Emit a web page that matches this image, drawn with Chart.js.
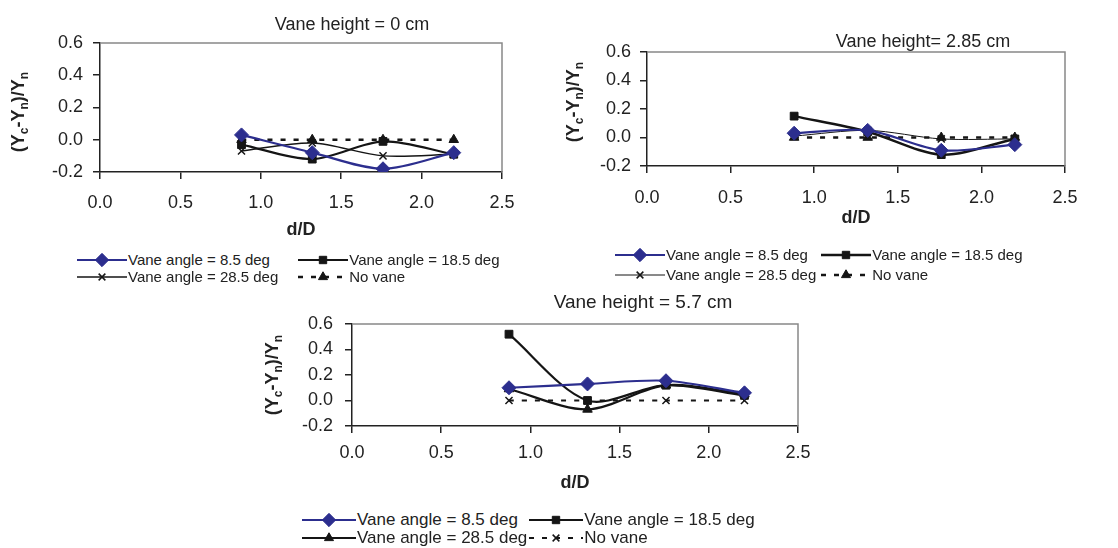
<!DOCTYPE html>
<html>
<head>
<meta charset="utf-8">
<script src="https://cdn.jsdelivr.net/npm/chart.js@4.4.1/dist/chart.umd.min.js"></script>
<style>
body { margin: 0; background: #fff; }
#tudo { position: relative; width: 1118px; height: 548px; overflow: hidden; font-family: "Liberation Sans", Arial, sans-serif; color: #222; }
#tudo > canvas { position: absolute; }
.legenda { position: absolute; display: grid; grid-template-columns: auto auto; align-items: center; }
.item { display: flex; align-items: center; white-space: nowrap; }
.item canvas { margin-right: 1px; }
</style>
</head>
<body>
<div id="tudo">
  <canvas id="g1" width="560" height="250" style="left:0px;top:0px"></canvas>
  <canvas id="g2" width="558" height="240" style="left:560px;top:0px"></canvas>
  <canvas id="g3" width="580" height="210" style="left:250px;top:290px"></canvas>
  <div class="legenda" id="leg1" style="left:77px;top:251px;font-size:15px;line-height:17px;column-gap:20px"></div>
  <div class="legenda" id="leg2" style="left:615px;top:245px;font-size:15px;line-height:20px;column-gap:5px"></div>
  <div class="legenda" id="leg3" style="left:302px;top:511px;font-size:17px;line-height:18px;column-gap:2px"></div>
</div>
<script>
// d/D positions of the measurements
var dD = [0.88, 1.32, 1.76, 2.2];
var rotulos = ['Vane angle = 8.5 deg', 'Vane angle = 18.5 deg', 'Vane angle = 28.5 deg', 'No vane'];
var xTicks = [0, 0.5, 1, 1.5, 2, 2.5];
var yTicks = [-0.2, 0, 0.2, 0.4, 0.6];

// Vane height = 0 cm
var h0_85 = [0.03, -0.08, -0.18, -0.08];
var h0_185 = [-0.03, -0.12, -0.01, -0.09];
var h0_285 = [-0.07, -0.02, -0.1, -0.09];
var h0_sem = [0, 0, 0, 0];

// Vane height = 2.85 cm
var h285_85 = [0.03, 0.05, -0.09, -0.05];
var h285_185 = [0.15, 0.04, -0.12, -0.01];
var h285_285 = [0.01, 0.05, -0.01, -0.01];
var h285_sem = [0, 0, 0, 0];

// Vane height = 5.7 cm
var h57_85 = [0.1, 0.13, 0.155, 0.06];
var h57_185 = [0.52, 0.0, 0.12, 0.04];
var h57_285 = [0.09, -0.07, 0.12, 0.05];
var h57_sem = [0, 0, 0, 0];

var azul = '#2c2e8e';
var preto = '#151515';
var fonte = '"Liberation Sans", Arial, sans-serif';

var estilos1 = [
    { cor: azul, larg: 2.2, ponto: 'rectRot', raio: 7 },
    { cor: preto, larg: 2.2, ponto: 'rect', raio: 5.5 },
    { cor: preto, larg: 1.5, ponto: 'crossRot', raio: 5 },
    { cor: preto, larg: 2.5, ponto: 'triangle', raio: 5.5, tracejado: [5, 8] }
];
var estilos2 = [
    { cor: azul, larg: 2.2, ponto: 'rectRot', raio: 7 },
    { cor: preto, larg: 2.5, ponto: 'rect', raio: 5.5 },
    { cor: preto, larg: 1, ponto: 'crossRot', raio: 5 },
    { cor: preto, larg: 2.5, ponto: 'triangle', raio: 5.5, tracejado: [5, 8] }
];
var estilos3 = [
    { cor: azul, larg: 2.2, ponto: 'rectRot', raio: 7 },
    { cor: preto, larg: 2.2, ponto: 'rect', raio: 5.5 },
    { cor: preto, larg: 2.2, ponto: 'triangle', raio: 5.5 },
    { cor: preto, larg: 2.2, ponto: 'crossRot', raio: 5, tracejado: [5, 8] }
];

// frame, chart title and the (Yc-Yn)/Yn axis title with subscripts
var moldura = {
    id: 'moldura',
    beforeDatasetsDraw: function (chart, args, opts) {
        var ctx = chart.ctx, a = chart.chartArea;
        ctx.save();
        ctx.strokeStyle = '#888';
        ctx.lineWidth = 1.5;
        ctx.beginPath();
        ctx.moveTo(a.left, a.top);
        ctx.lineTo(a.right, a.top);
        ctx.lineTo(a.right, a.bottom);
        ctx.stroke();
        ctx.restore();
    },
    afterDraw: function (chart, args, opts) {
        var ctx = chart.ctx;
        ctx.save();
        ctx.fillStyle = '#222';
        ctx.font = opts.tamanho + 'px ' + fonte;
        ctx.textAlign = 'center';
        ctx.textBaseline = 'middle';
        ctx.fillText(opts.titulo, opts.tx, opts.ty);

        ctx.translate(opts.yx, opts.yy);
        ctx.rotate(-Math.PI / 2);
        var partes = [['(Y', 0], ['c', 1], ['-Y', 0], ['n', 1], [')/Y', 0], ['n', 1]];
        var fN = 'bold 18px ' + fonte, fS = 'bold 12px ' + fonte;
        var total = 0;
        partes.forEach(function (p) {
            ctx.font = p[1] ? fS : fN;
            total += ctx.measureText(p[0]).width;
        });
        var x = -total / 2;
        ctx.textAlign = 'left';
        ctx.textBaseline = 'alphabetic';
        partes.forEach(function (p) {
            ctx.font = p[1] ? fS : fN;
            ctx.fillText(p[0], x, p[1] ? 10 : 6);
            x += ctx.measureText(p[0]).width;
        });
        ctx.restore();
    }
};
Chart.register(moldura);

function montarDatasets(series, estilos) {
    var ds = [];
    for (var i = 0; i < series.length; i++) {
        var e = estilos[i];
        ds.push({
            label: rotulos[i],
            data: dD.map(function (x, j) { return { x: x, y: series[i][j] }; }),
            borderColor: e.cor,
            backgroundColor: e.cor,
            borderWidth: e.larg,
            borderDash: e.tracejado || [],
            pointStyle: e.ponto,
            pointRadius: e.raio,
            pointBorderWidth: e.ponto == 'crossRot' ? 1.5 : 1,
            pointBackgroundColor: e.cor,
            pointBorderColor: e.cor,
            tension: 0.3,
            fill: false
        });
    }
    return ds;
}

function criarGrafico(id, series, estilos, cfg) {
    var ctx = document.getElementById(id).getContext('2d');
    return new Chart(ctx, {
        type: 'line',
        data: { datasets: montarDatasets(series, estilos) },
        options: {
            responsive: false,
            animation: false,
            devicePixelRatio: 1,
            layout: { padding: { top: cfg.topo, right: cfg.direita, left: 0, bottom: 0 } },
            plugins: {
                legend: { display: false },
                tooltip: { enabled: false },
                moldura: cfg.moldura
            },
            scales: {
                x: {
                    type: 'linear',
                    min: 0,
                    max: 2.5,
                    afterBuildTicks: function (s) { s.ticks = xTicks.map(function (v) { return { value: v }; }); },
                    afterFit: function (s) { s.height = cfg.altX; },
                    ticks: {
                        callback: function (v) { return v.toFixed(1); },
                        font: { family: fonte, size: 18 },
                        color: '#222',
                        padding: cfg.padX,
                        maxRotation: 0
                    },
                    grid: { drawOnChartArea: false, tickLength: 7, color: '#222', lineWidth: 1.5 },
                    border: { color: '#222', width: 1.5 },
                    title: {
                        display: true,
                        text: 'd/D',
                        font: { family: fonte, size: 18, weight: 'bold' },
                        color: '#222',
                        padding: { top: 0, bottom: cfg.padTitulo }
                    }
                },
                y: {
                    min: -0.2,
                    max: 0.6,
                    afterBuildTicks: function (s) { s.ticks = yTicks.map(function (v) { return { value: v }; }); },
                    afterFit: function (s) { s.width = cfg.esquerda; },
                    ticks: {
                        callback: function (v) { return v.toFixed(1); },
                        font: { family: fonte, size: 18 },
                        color: '#222',
                        padding: cfg.padY
                    },
                    grid: { drawOnChartArea: false, tickLength: 7, color: '#222', lineWidth: 1.5 },
                    border: { color: '#222', width: 1.5 }
                }
            }
        }
    });
}

function criarLegenda(id, estilos, largSimbolo) {
    var div = document.getElementById(id);
    for (var i = 0; i < rotulos.length; i++) {
        var e = estilos[i];
        var item = document.createElement('div');
        item.className = 'item';
        var c = document.createElement('canvas');
        c.width = largSimbolo;
        c.height = 14;
        var ctx = c.getContext('2d');
        ctx.strokeStyle = e.cor;
        ctx.fillStyle = e.cor;
        ctx.lineWidth = e.larg;
        ctx.setLineDash(e.tracejado || []);
        ctx.beginPath();
        ctx.moveTo(0, 7);
        ctx.lineTo(largSimbolo, 7);
        ctx.stroke();
        ctx.setLineDash([]);
        ctx.lineWidth = e.ponto == 'crossRot' ? 1.5 : 1;
        Chart.helpers.drawPoint(ctx, { pointStyle: e.ponto, radius: e.raio * 0.95, rotation: 0, borderWidth: ctx.lineWidth }, largSimbolo / 2, 7);
        var t = document.createElement('span');
        t.textContent = rotulos[i];
        item.appendChild(c);
        item.appendChild(t);
        div.appendChild(item);
    }
}

criarGrafico('g1', [h0_85, h0_185, h0_285, h0_sem], estilos1, {
    topo: 43, direita: 58, esquerda: 100, altX: 78, padX: 13, padY: 10, padTitulo: 9,
    moldura: { titulo: 'Vane height = 0 cm', tamanho: 18, tx: 352, ty: 25, yx: 18, yy: 112 }
});
criarGrafico('g2', [h285_85, h285_185, h285_285, h285_sem], estilos2, {
    topo: 52, direita: 53, esquerda: 87, altX: 74, padX: 14, padY: 9, padTitulo: 11,
    moldura: { titulo: 'Vane height= 2.85 cm', tamanho: 18, tx: 363, ty: 42, yx: 13, yy: 102 }
});
criarGrafico('g3', [h57_85, h57_185, h57_285, h57_sem], estilos3, {
    topo: 34, direita: 32, esquerda: 102, altX: 74, padX: 9, padY: 12, padTitulo: 6,
    moldura: { titulo: 'Vane height = 5.7 cm', tamanho: 19, tx: 393, ty: 13, yx: 22, yy: 85 }
});

criarLegenda('leg1', estilos1, 50);
criarLegenda('leg2', estilos2, 50);
criarLegenda('leg3', estilos3, 54);
</script>
</body>
</html>
